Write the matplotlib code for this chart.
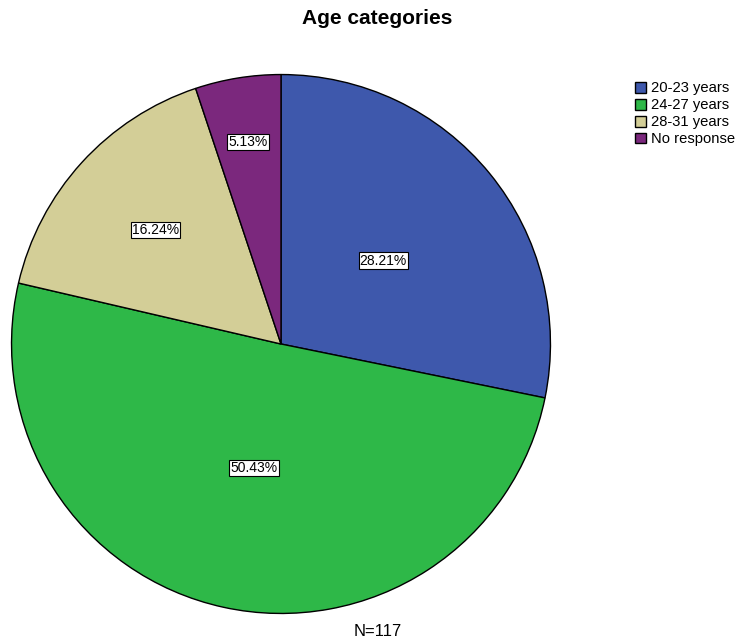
import matplotlib.pyplot as plt
import numpy as np

plt.rcParams['font.family'] = ['Liberation Sans', 'DejaVu Sans']

categories = ['20-23 years', '24-27 years', '28-31 years', 'No response']
percents = [28.21, 50.43, 16.24, 5.13]
colors = ['#3E58AC', '#2EB848', '#D3CE97', '#7B287D']
n_total = 117

# how far out each percent box sits, as a fraction of the radius
label_dist = [0.49, 0.47, 0.63, 0.76]

fig = plt.figure(figsize=(7.47, 6.42), dpi=100)
ax = fig.add_axes([11 / 747, 28 / 642, 540 / 747, 540 / 642])

wedges, _ = ax.pie(percents, colors=colors, startangle=90, counterclock=False,
                   wedgeprops=dict(edgecolor='black', linewidth=1.0))
ax.set_aspect('equal')
ax.set_xlim(-1.002, 1.002)
ax.set_ylim(-1.002, 1.002)

for w, p, d in zip(wedges, percents, label_dist):
    ang = np.deg2rad((w.theta1 + w.theta2) / 2)
    ax.text(d * np.cos(ang), d * np.sin(ang), f'{p:.2f}%', ha='center', va='center',
            fontsize=10, bbox=dict(boxstyle='square,pad=0.08', fc='white', ec='black', lw=0.8))

fig.text(377 / 747, 1 - 18 / 642, 'Age categories', ha='center', va='center',
         fontsize=15, fontweight='bold')
fig.text(378 / 747, 1 - 631 / 642, f'N={n_total}', ha='center', va='center', fontsize=12)

leg = fig.legend(wedges, categories, loc='upper left', bbox_to_anchor=(628 / 747, 1 - 74 / 642),
                 frameon=False, fontsize=10.6, handlelength=0.75, handleheight=0.75,
                 handletextpad=0.3, labelspacing=0.2, borderpad=0)

fig.savefig('out.png', dpi=100)
